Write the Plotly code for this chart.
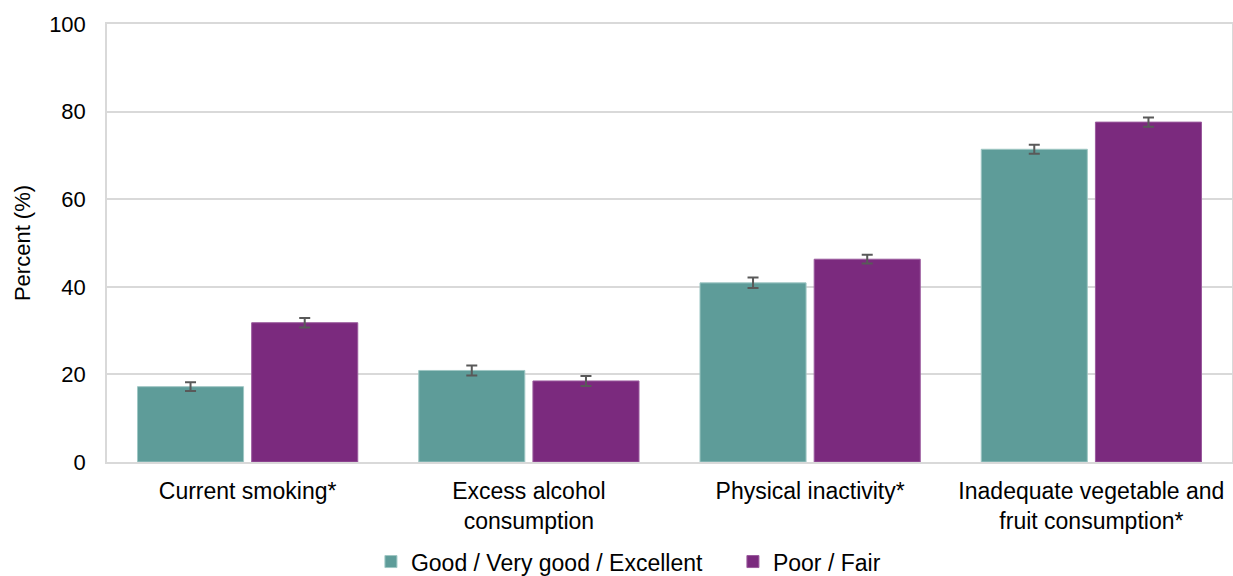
import plotly.graph_objects as go

categories = ["Current smoking*", "Excess alcohol<br>consumption", "Physical inactivity*",
              "Inadequate vegetable and<br>fruit consumption*"]
good_vals = [17.2, 20.9, 40.9, 71.4]
good_err = [1.0, 1.15, 1.2, 1.05]
poor_vals = [31.8, 18.5, 46.3, 77.6]
poor_err = [1.1, 1.15, 1.0, 1.05]
y_ticks = [0, 20, 40, 60, 80, 100]

teal = "#5E9C99"
purple = "#7B2A7E"
err_color = "#595959"
grid = "#D9D9D9"
font = "Liberation Sans, Arial, sans-serif"

fig = go.Figure()
fig.add_trace(go.Bar(
    name="Good / Very good / Excellent", x=categories, y=good_vals,
    marker=dict(color=teal, line=dict(color="#9FC7C4", width=1)),
    error_y=dict(type="data", array=good_err, color=err_color, thickness=2, width=5.5),
))
fig.add_trace(go.Bar(
    name="Poor / Fair", x=categories, y=poor_vals,
    marker=dict(color=purple, line=dict(color="#9A5A9D", width=1)),
    error_y=dict(type="data", array=poor_err, color=err_color, thickness=2, width=5.5),
))

fig.update_layout(
    width=1233, height=576,
    margin=dict(l=107, r=1, t=24, b=114),
    paper_bgcolor="white", plot_bgcolor="white",
    barmode="group", bargap=0.188, bargroupgap=0.071,
    font=dict(family=font, size=22, color="#000000"),
    legend=dict(orientation="h", x=0.2346, xanchor="left", xref="paper",
                y=0.025, yanchor="middle", yref="container",
                entrywidth=317, entrywidthmode="pixels",
                font=dict(size=23), itemwidth=30, tracegroupgap=0),
    showlegend=True,
)
fig.update_xaxes(showline=True, linecolor=grid, linewidth=1.5, mirror=True,
                 ticks="outside", ticklen=8, tickcolor="rgba(0,0,0,0)",
                 tickfont=dict(size=23), showgrid=False, automargin=False)
fig.update_yaxes(range=[0, 100], tickvals=y_ticks, showgrid=True, gridcolor=grid, gridwidth=1.5,
                 showline=True, linecolor=grid, linewidth=1.5, mirror=True,
                 ticks="outside", ticklen=15, tickcolor="rgba(0,0,0,0)",
                 tickfont=dict(size=22), zeroline=False, automargin=False,
                 title=dict(text="Percent (%)", font=dict(size=22), standoff=12))

fig.write_html("out.html", config={"displayModeBar": False},
               post_script="document.body.style.margin='0';document.body.style.overflow='hidden';")
